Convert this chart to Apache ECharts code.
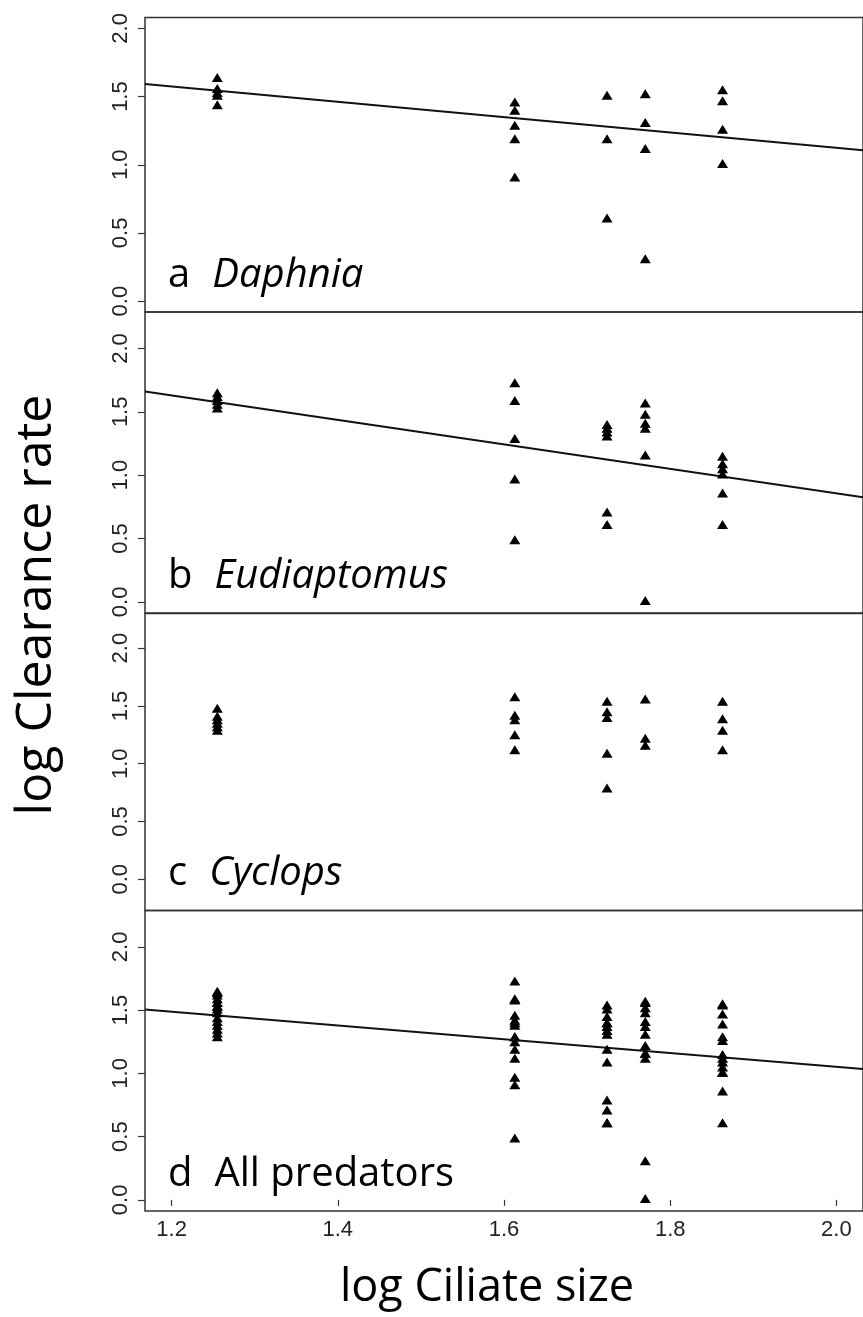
<!DOCTYPE html>
<html>
<head>
<meta charset="utf-8">
<script src="https://cdn.jsdelivr.net/npm/echarts@6/dist/echarts.min.js"></script>
<style>
  html, body { margin: 0; padding: 0; background: #fff; }
  #chart { width: 863px; height: 1317px; }
</style>
</head>
<body>
<div id="chart"></div>
<script>
// log ciliate size of the five prey species (x positions of the columns)
var ciliateSize = [1.255, 1.613, 1.724, 1.770, 1.863];

// log clearance rate, one list per prey column
var daphniaRates = [
  [1.64, 1.56, 1.53, 1.51, 1.44],
  [1.46, 1.40, 1.29, 1.19, 0.91],
  [1.51, 1.19, 0.61],
  [1.52, 1.31, 1.12, 0.31],
  [1.55, 1.47, 1.26, 1.01]
];
var eudiaptomusRates = [
  [1.65, 1.62, 1.59, 1.56, 1.53],
  [1.73, 1.59, 1.29, 0.97, 0.49],
  [1.40, 1.37, 1.34, 1.31, 0.71, 0.61],
  [1.57, 1.48, 1.41, 1.37, 1.16, 0.01],
  [1.15, 1.09, 1.05, 1.01, 0.86, 0.61]
];
var cyclopsRates = [
  [1.48, 1.41, 1.38, 1.35, 1.32, 1.29],
  [1.58, 1.42, 1.38, 1.25, 1.12],
  [1.54, 1.45, 1.40, 1.09, 0.79],
  [1.56, 1.22, 1.16],
  [1.54, 1.39, 1.29, 1.12]
];

// fitted regression lines, values at the two ends of the x range
var fitX = [1.168, 2.032];
var fitDaphnia = [1.592, 1.107];
var fitEudiaptomus = [1.660, 0.825];
var fitAll = [1.505, 1.034];

var xTicks = [1.2, 1.4, 1.6, 1.8, 2.0];
var yTicks = [0, 0.5, 1.0, 1.5, 2.0];

function toPoints(cols) {
  var pts = [];
  cols.forEach(function (ys, i) {
    ys.forEach(function (y) { pts.push([ciliateSize[i], y]); });
  });
  return pts;
}
function pair(ys) {
  return [[fitX[0], ys[0]], [fitX[1], ys[1]]];
}

// panel d pools the three predators
var allRates = ciliateSize.map(function (s, i) {
  return daphniaRates[i].concat(eudiaptomusRates[i], cyclopsRates[i]);
});

var panels = [
  { tag: 'a', name: 'Daphnia', italic: true, top: 17.5, bottom: 312, ymin: -0.08, ymax: 2.08, pts: toPoints(daphniaRates), fit: fitDaphnia },
  { tag: 'b', name: 'Eudiaptomus', italic: true, top: 312, bottom: 613, ymin: -0.088, ymax: 2.288, pts: toPoints(eudiaptomusRates), fit: fitEudiaptomus },
  { tag: 'c', name: 'Cyclops', italic: true, top: 613.5, bottom: 910.5, ymin: -0.27, ymax: 2.30, pts: toPoints(cyclopsRates), fit: null },
  { tag: 'd', name: 'All predators', italic: false, top: 910.5, bottom: 1211, ymin: -0.088, ymax: 2.288, pts: toPoints(allRates), fit: fitAll }
];

var grids = [], xAxes = [], yAxes = [], series = [], titles = [];
var tickFont = { fontFamily: 'Liberation Sans', fontSize: 22, color: '#222' };

panels.forEach(function (p, i) {
  var last = i === panels.length - 1;
  grids.push({
    left: 145, width: 724, top: p.top, height: p.bottom - p.top,
    show: true, borderColor: '#333', borderWidth: 1.5, backgroundColor: 'transparent'
  });
  xAxes.push({
    type: 'value', gridIndex: i, min: 1.168, max: 2.032,
    axisLine: { show: false },
    splitLine: { show: false },
    axisTick: { show: last, length: 6, customValues: xTicks, lineStyle: { color: '#333', width: 1.2 } },
    axisLabel: Object.assign({
      show: last, margin: 8, customValues: xTicks,
      formatter: function (v) { return v.toFixed(1); }
    }, tickFont)
  });
  yAxes.push({
    type: 'value', gridIndex: i, min: p.ymin, max: p.ymax,
    axisLine: { show: false },
    splitLine: { show: false },
    axisTick: { show: true, length: 7, customValues: yTicks, lineStyle: { color: '#333', width: 1.2 } },
    axisLabel: Object.assign({
      rotate: 90, margin: 13, customValues: yTicks,
      formatter: function (v) { return v.toFixed(1); }
    }, tickFont)
  });
  series.push({
    type: 'scatter', xAxisIndex: i, yAxisIndex: i,
    symbol: 'triangle', symbolSize: [11, 9],
    itemStyle: { color: '#000', opacity: 1 },
    data: p.pts, z: 3
  });
  if (p.fit) {
    series.push({
      type: 'line', xAxisIndex: i, yAxisIndex: i,
      showSymbol: false, silent: true,
      lineStyle: { color: '#111', width: 2 },
      data: pair(p.fit), z: 2
    });
  }
  titles.push({
    left: 168, top: p.bottom - 24.5 - 32, padding: 0,
    text: '{t|' + p.tag + '}{' + (p.italic ? 'i' : 't') + '|' + p.name + '}',
    textStyle: {
      fontWeight: 'normal',
      rich: {
        t: { fontFamily: 'Open Sans', fontWeight: 'normal', fontSize: 40, color: '#000', lineHeight: 40, padding: [0, 22, 0, 0] },
        i: { fontFamily: 'Open Sans', fontWeight: 'normal', fontStyle: 'italic', fontSize: 40, color: '#000', lineHeight: 40 }
      }
    }
  });
});

var chart = echarts.init(document.getElementById('chart'));
chart.setOption({
  animation: false,
  backgroundColor: '#fff',
  title: titles,
  grid: grids,
  xAxis: xAxes,
  yAxis: yAxes,
  series: series,
  graphic: [
    {
      type: 'text', x: 37, y: 605, rotation: Math.PI / 2,
      style: {
        text: 'log Clearance rate', fontFamily: 'Open Sans', fontSize: 50,
        fill: '#000', align: 'center', verticalAlign: 'middle'
      }
    },
    {
      type: 'text', x: 487, y: 1288,
      style: {
        text: 'log Ciliate size', fontFamily: 'Open Sans', fontSize: 45,
        fill: '#000', align: 'center', verticalAlign: 'middle'
      }
    }
  ]
});
</script>
</body>
</html>
